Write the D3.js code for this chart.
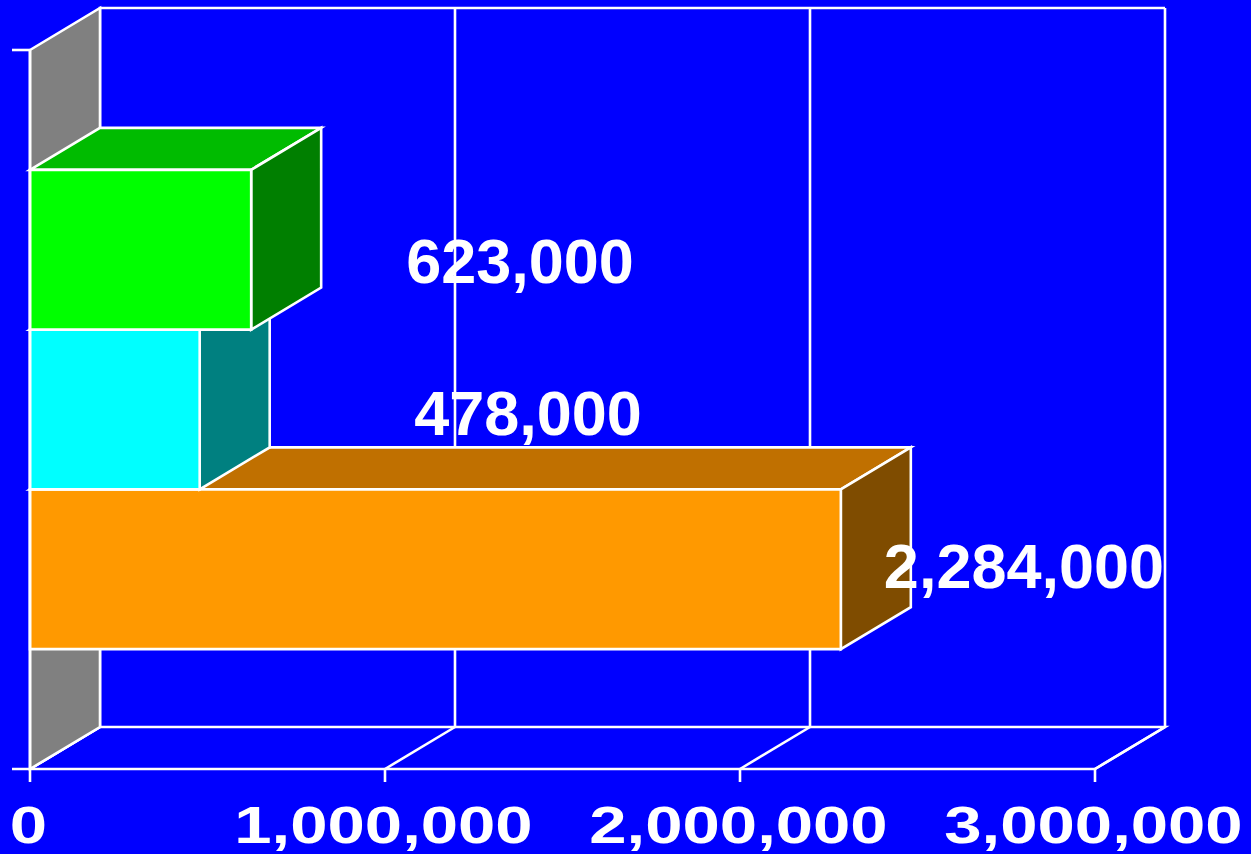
<!DOCTYPE html>
<html>
<head>
<meta charset="utf-8">
<script src="https://cdn.jsdelivr.net/npm/d3@7"></script>
<style>
  html, body { margin: 0; padding: 0; background: #0000ff; }
  svg { display: block; }
</style>
</head>
<body>
<svg id="chart" width="1251" height="854"></svg>
<script>
// Series (top to bottom) and their values
const seriesNames = ["Series C", "Series B", "Series A"];
const seriesValues = [623000, 478000, 2284000];
const valueLabels = ["623,000", "478,000", "2,284,000"];
const tickValues = [0, 1000000, 2000000, 3000000];
const tickLabels = ["0", "1,000,000", "2,000,000", "3,000,000"];

// Face colours per series: front, top, side
const faceColors = [
  { front: "#00ff00", top: "#00bb00", side: "#007f00" },
  { front: "#00ffff", top: "#00c0c0", side: "#008080" },
  { front: "#ff9900", top: "#c07000", side: "#7f4c00" }
];
// Label anchor points (centre x, baseline y) for the value labels
const labelAnchors = [[520, 283], [528, 435], [1024, 588]];

const svg = d3.select("#chart");
const W = 1251, H = 854;
const DX = 70, DY = -42;               // 3D depth offset
const top0 = 50, base = 769;            // front plane vertical extent

svg.append("rect").attr("width", W).attr("height", H).attr("fill", "#0000ff");

const x = d3.scaleLinear().domain([0, 3000000]).range([30, 1095]);
const y = d3.scaleBand().domain(seriesNames).range([top0, base])
  .paddingInner(0).paddingOuter(0.75);

const line = d3.line();
const stroke = "#ffffff", sw = 2.6;

// Back wall frame and gridlines
const g = svg.append("g");
g.append("path")
  .attr("d", line([[x(0) + DX, base + DY], [x(0) + DX, top0 + DY], [x(3000000) + DX, top0 + DY]]))
  .attr("fill", "none").attr("stroke", stroke).attr("stroke-width", sw);
tickValues.slice(1).forEach(v => {
  g.append("path")
    .attr("d", line([[x(v) + DX, top0 + DY], [x(v) + DX, base + DY]]))
    .attr("stroke", stroke).attr("stroke-width", sw);
});

// Floor
g.append("path")
  .attr("d", line([[x(0), base], [x(0) + DX, base + DY], [x(3000000) + DX, base + DY], [x(3000000), base]]))
  .attr("fill", "none").attr("stroke", stroke).attr("stroke-width", sw);
tickValues.forEach(v => {
  g.append("path")
    .attr("d", line([[x(v), base], [x(v) + DX, base + DY]]))
    .attr("stroke", stroke).attr("stroke-width", sw);
});

// Left side wall
g.append("path")
  .attr("d", line([[x(0), top0], [x(0) + DX, top0 + DY], [x(0) + DX, base + DY], [x(0), base]]) + "Z")
  .attr("fill", "#808080").attr("stroke", stroke).attr("stroke-width", sw)
  .attr("stroke-linejoin", "miter");

// Bars, drawn bottom-up so the upper bars overlap the lower ones
const bars = seriesNames.map((s, i) => ({ s, v: seriesValues[i], c: faceColors[i] })).reverse();
const barG = svg.append("g");
bars.forEach(d => {
  const x0 = x(0), x1 = x(d.v), y0 = y(d.s), y1 = y(d.s) + y.bandwidth();
  const gb = barG.append("g").attr("stroke", stroke).attr("stroke-width", sw).attr("stroke-linejoin", "miter");
  // top face
  gb.append("path")
    .attr("d", line([[x0, y0], [x0 + DX, y0 + DY], [x1 + DX, y0 + DY], [x1, y0]]) + "Z")
    .attr("fill", d.c.top);
  // side face
  gb.append("path")
    .attr("d", line([[x1, y0], [x1 + DX, y0 + DY], [x1 + DX, y1 + DY], [x1, y1]]) + "Z")
    .attr("fill", d.c.side);
  // front face
  gb.append("path")
    .attr("d", line([[x0, y0], [x1, y0], [x1, y1], [x0, y1]]) + "Z")
    .attr("fill", d.c.front);
});

// Axes: left vertical line with end ticks, bottom line with ticks
const ax = svg.append("g").attr("stroke", stroke).attr("stroke-width", sw);
ax.append("path").attr("d", line([[x(0), top0], [x(0), base]]));
ax.append("path").attr("d", line([[12, top0], [x(0), top0]]));
ax.append("path").attr("d", line([[12, base], [x(3000000), base]]));
tickValues.forEach(v => {
  ax.append("path").attr("d", line([[x(v), base], [x(v), base + 13]]));
});

// Tick labels (wide bold lettering)
svg.append("g").selectAll("text").data(tickValues).join("text")
  .attr("transform", (v, i) => `translate(${x(v) - 1.5},843) scale(1.29,1)`)
  .attr("text-anchor", "middle")
  .attr("font-family", "Liberation Sans, Arial, sans-serif")
  .attr("font-weight", "bold")
  .attr("font-size", 52)
  .attr("fill", "#ffffff")
  .text((v, i) => tickLabels[i]);

// Value labels
svg.append("g").selectAll("text").data(seriesValues).join("text")
  .attr("x", (v, i) => labelAnchors[i][0])
  .attr("y", (v, i) => labelAnchors[i][1])
  .attr("text-anchor", "middle")
  .attr("font-family", "Liberation Sans, Arial, sans-serif")
  .attr("font-weight", "bold")
  .attr("font-size", 63)
  .attr("fill", "#ffffff")
  .text((v, i) => valueLabels[i]);
</script>
</body>
</html>
